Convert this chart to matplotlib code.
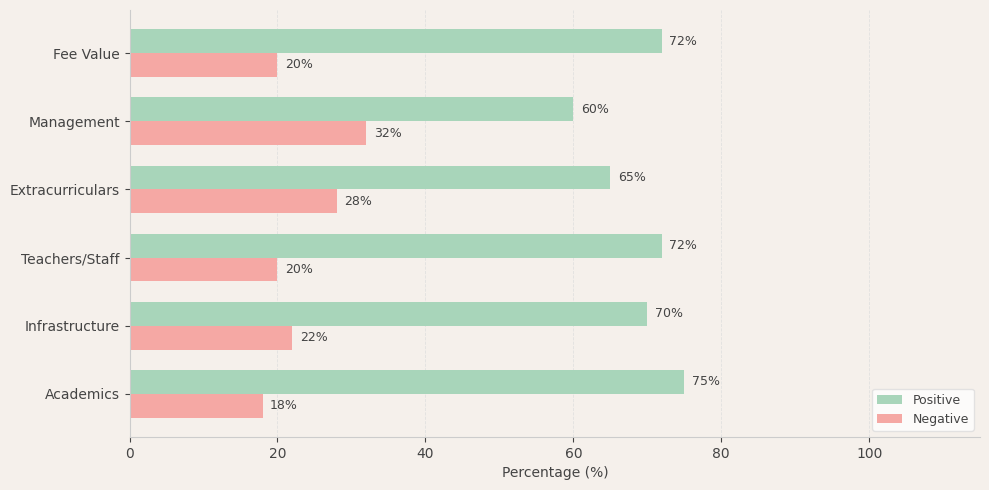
import matplotlib.pyplot as plt
import numpy as np

categories = ["Academics", "Infrastructure", "Teachers/Staff", "Extracurriculars", "Management", "Fee Value"]
positive = [75, 70, 72, 65, 60, 72]
negative = [18, 22, 20, 28, 32, 20]

bg = "#f5f0eb"
text_color = "#444444"

fig, ax = plt.subplots(figsize=(9.89, 4.9), dpi=100)
fig.patch.set_facecolor(bg)
ax.set_facecolor(bg)

y = np.arange(len(categories))
h = 0.35

bars_pos = ax.barh(y + h / 2, positive, h, color="#a8d5ba", label="Positive")
bars_neg = ax.barh(y - h / 2, negative, h, color="#f5a8a4", label="Negative")

for bar, v in zip(bars_pos, positive):
    ax.text(v + 1, bar.get_y() + bar.get_height() / 2, f"{v}%",
            va="center", ha="left", fontsize=9, color=text_color)
for bar, v in zip(bars_neg, negative):
    ax.text(v + 1, bar.get_y() + bar.get_height() / 2, f"{v}%",
            va="center", ha="left", fontsize=9, color=text_color)

ax.set_yticks(y)
ax.set_yticklabels(categories, fontsize=10, color=text_color)
ax.set_xlim(0, 115)
ax.set_xticks([0, 20, 40, 60, 80, 100])
ax.tick_params(axis="x", labelsize=10, colors=text_color)
ax.tick_params(axis="y", colors=text_color)
ax.set_xlabel("Percentage (%)", fontsize=10, color=text_color)

ax.grid(axis="x", linestyle="--", color="#dddddd", linewidth=0.6, alpha=0.8)
ax.set_axisbelow(True)

for s in ["top", "right"]:
    ax.spines[s].set_visible(False)
for s in ["left", "bottom"]:
    ax.spines[s].set_color("#cccccc")

leg = ax.legend(loc="lower right", fontsize=9, facecolor="white", edgecolor="#dddddd")
for t in leg.get_texts():
    t.set_color(text_color)

plt.subplots_adjust(left=0.131, right=0.991, top=0.98, bottom=0.108)
plt.savefig("out.png", facecolor=bg)
plt.close()
